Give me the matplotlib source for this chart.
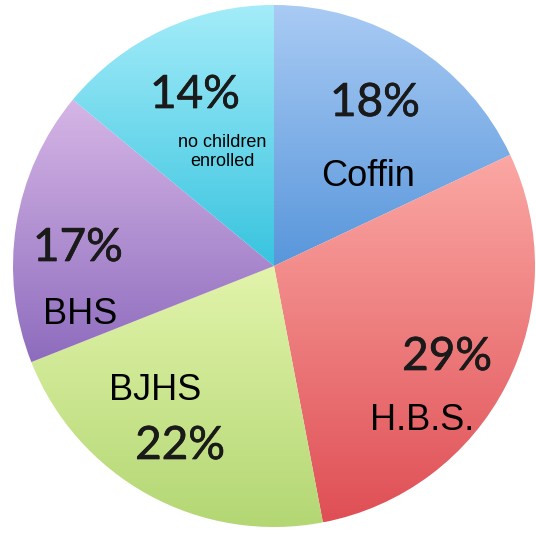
import numpy as np
import matplotlib
matplotlib.use("Agg")
import matplotlib.pyplot as plt
import matplotlib.patheffects as pe
from matplotlib.colors import LinearSegmentedColormap

categories = ["Coffin", "H.B.S.", "BJHS", "BHS", "no children\nenrolled"]
values = [18, 29, 22, 17, 14]
pct_labels = ["18%", "29%", "22%", "17%", "14%"]
top_colors = ["#a9cbf4", "#fba8a4", "#e2f4ab", "#d6b6e6", "#a4ecf9"]
bottom_colors = ["#5896db", "#df4f55", "#b2d672", "#8e6cbe", "#38c4df"]

W, H = 536, 535
R_PX = 261.0
CX, CY = 274.0, 266.0

fig = plt.figure(figsize=(W / 100, H / 100), dpi=100)
ax = fig.add_axes([0, 0, 1, 1])

wedges, _ = ax.pie(values, startangle=90, counterclock=False, radius=1.0,
                   center=(0, 0), frame=True,
                   wedgeprops=dict(linewidth=0, edgecolor="none"))
ax.set_xlim(-CX / R_PX, (W - CX) / R_PX)
ax.set_ylim(-(H - CY) / R_PX, CY / R_PX)
ax.set_aspect("equal", adjustable="box")
ax.axis("off")

for w, tc, bc in zip(wedges, top_colors, bottom_colors):
    w.set_facecolor("none")
    verts = w.get_path().vertices
    y0, y1 = verts[:, 1].min(), verts[:, 1].max()
    x0, x1 = verts[:, 0].min(), verts[:, 0].max()
    cmap = LinearSegmentedColormap.from_list("g", [bc, tc])
    grad = np.linspace(0, 1, 256).reshape(-1, 1)
    im = ax.imshow(grad, cmap=cmap, origin="lower", aspect="auto",
                   extent=[x0, x1, y0, y1], interpolation="bilinear", zorder=1)
    im.set_clip_path(w)

def px(x, y):
    return ((x - CX) / R_PX, (CY - y) / R_PX)

pct_pos = [(375, 103), (447, 357), (180, 446), (78, 248), (195, 95)]
lab_pos = [(368, 177), (422, 421), (155, 391), (80, 315), (222, 152)]
lab_size = [26, 26, 26, 26, 13]

for t, (x, y) in zip(pct_labels, pct_pos):
    ax.text(*px(x, y), t, ha="center", va="center", fontsize=33,
            family="Lato", fontweight="normal", color="#1a1a1a", zorder=5,
            path_effects=[pe.withStroke(linewidth=0.5, foreground="#1a1a1a")])
for t, (x, y), s in zip(categories, lab_pos, lab_size):
    ax.text(*px(x, y), t, ha="center", va="center", fontsize=s,
            family="Liberation Sans", color="black", zorder=5,
            linespacing=1.1)

fig.savefig("out.png", dpi=100)
